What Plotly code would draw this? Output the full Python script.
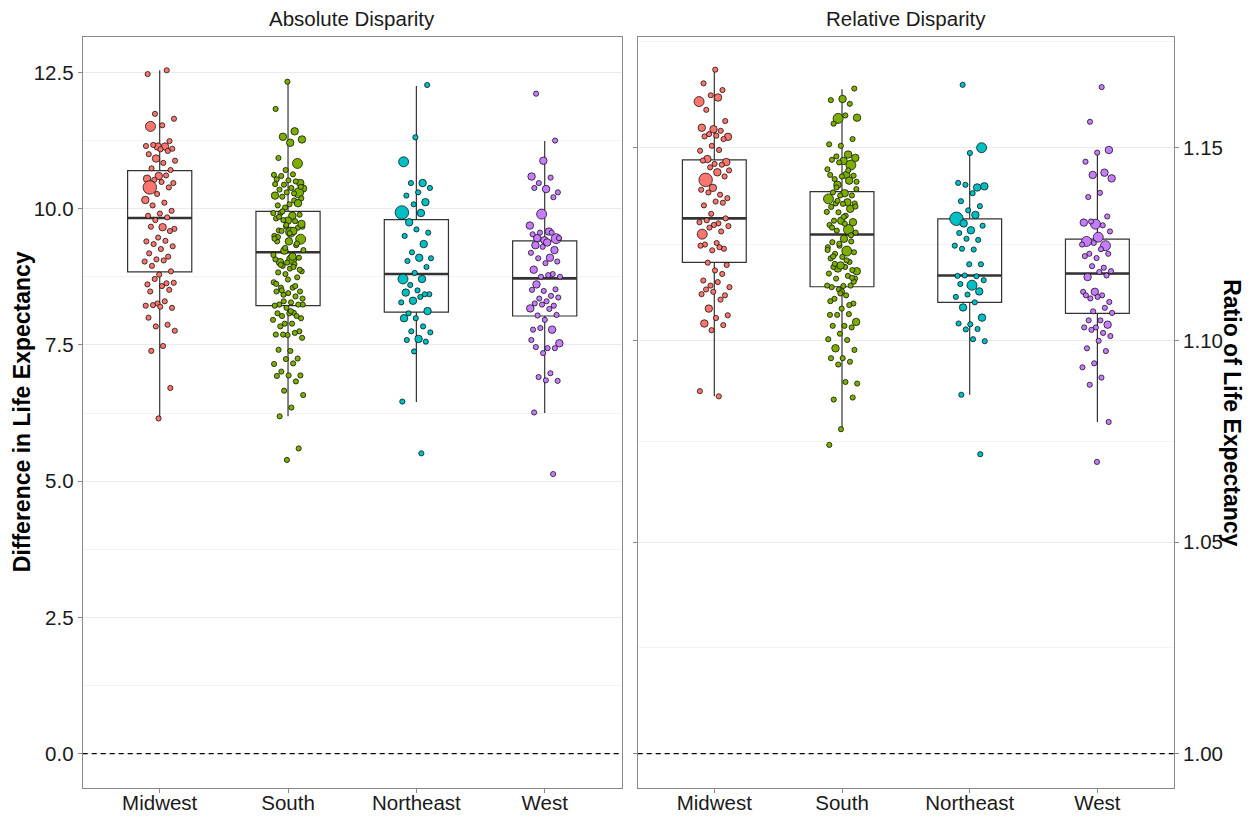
import numpy as np
import plotly.graph_objects as go

# ---------------- data ----------------
regions = ["Midwest", "South", "Northeast", "West"]
region_colors = ["#F8766D", "#7CAE00", "#00BFC4", "#C77CFF"]

# Absolute disparity (difference in life expectancy): (value, population class)
abs_midwest = [(12.47,1),(12.54,1),(11.74,1),(11.65,1),(11.53,1),(11.51,3),(11.24,1),(11.14,2),(11.15,1),(11.14,2),
               (11.17,1),(11.10,1),(11.09,1),(11.00,1),(11.06,1),(10.92,2),(10.88,1),(10.84,1),(10.74,1),(10.71,1),
               (10.60,2),(10.55,2),(10.61,1),(10.53,1),(10.47,1),(10.49,1),(10.39,4),(10.39,1),(10.27,1),(10.16,2),
               (10.11,1),(10.06,1),(9.96,1),(9.91,1),(9.87,1),(9.84,1),(9.79,1),(9.63,1),(9.66,2),(9.67,1),
               (9.59,1),(9.47,1),(9.40,1),(9.41,1),(9.35,1),(9.31,1),(9.26,1),(9.18,1),(9.12,1),(9.07,1),
               (9.03,1),(9.05,1),(8.95,1),(8.85,1),(8.79,1),(8.61,1),(8.63,1),(8.71,1),(8.64,1),(8.58,1),
               (8.48,1),(8.51,1),(8.26,1),(8.22,1),(8.30,1),(8.23,1),(8.18,1),(8.20,1),(8.00,1),(7.87,1),
               (7.84,1),(7.76,1),(7.48,1),(7.39,1),(6.71,1),(6.15,1)]
abs_south = [(12.33,1),(11.83,1),(11.42,2),(11.32,2),(11.27,2),(11.21,2),(10.93,1),(10.83,3),(10.71,1),(10.62,1),
             (10.63,1),(10.60,1),(10.47,2),(10.52,1),(10.54,1),(10.50,1),(10.44,1),(10.37,2),(10.38,1),(10.35,1),
             (10.29,3),(10.30,1),(10.24,2),(10.28,1),(10.22,1),(10.19,1),(10.08,1),(10.06,1),(10.11,1),(10.02,1),
             (9.92,1),(9.87,2),(9.92,1),(9.89,1),(9.78,2),(9.82,1),(9.77,1),(9.79,1),(9.67,1),(9.57,3),
             (9.60,1),(9.65,1),(9.67,1),(9.50,1),(9.59,2),(9.59,1),(9.44,3),(9.40,2),(9.40,1),(9.33,1),
             (9.23,2),(9.24,1),(9.07,3),(9.02,2),(9.10,1),(9.01,1),(9.07,1),(8.98,1),(8.95,1),(8.85,1),
             (8.90,1),(8.83,1),(8.74,1),(8.80,1),(8.65,1),(8.55,1),(8.55,1),(8.48,1),(8.45,1),(8.48,1),
             (8.39,1),(8.30,1),(8.24,1),(8.28,1),(8.24,1),(8.24,1),(8.18,1),(8.22,1),(8.09,1),(8.03,1),
             (7.99,1),(8.08,1),(8.08,1),(8.03,1),(7.89,1),(7.96,1),(7.89,1),(7.84,1),(7.75,1),(7.68,1),
             (7.69,1),(7.72,1),(7.69,1),(7.63,1),(7.39,1),(7.41,1),(7.25,1),(7.24,1),(7.15,1),(7.16,1),
             (7.01,1),(6.94,1),(6.94,1),(6.93,1),(6.83,1),(6.66,1),(6.58,1),(6.35,1),(6.19,1),(5.60,1),
             (5.39,1),(10.45,1),(10.15,1),(9.95,1),(9.72,2),(9.55,1),(9.48,1),(9.36,1),(9.28,1),(9.15,1),
             (9.12,2),(8.97,1),(8.88,1),(8.70,1),(8.62,1),(8.58,1),(8.42,1),(8.35,1),(8.12,1),(9.85,1),
             (10.10,2),(9.70,1),(9.45,1),(8.93,1),(8.50,1),(10.40,1)]
abs_northeast = [(12.27,1),(11.31,1),(10.86,3),(10.47,2),(10.47,1),(10.38,1),(10.30,1),(10.24,1),(10.12,2),(10.08,1),
                 (9.93,4),(9.92,2),(9.75,2),(9.56,1),(9.62,1),(9.50,1),(9.35,2),(9.20,1),(9.09,1),(9.10,2),
                 (9.04,1),(8.93,1),(8.82,1),(8.71,3),(8.71,2),(8.60,1),(8.43,1),(8.50,1),(8.46,2),(8.43,1),
                 (8.31,2),(8.28,1),(8.38,1),(8.08,1),(8.12,2),(7.99,1),(7.99,2),(7.84,1),(7.75,1),(7.73,1),
                 (7.61,2),(7.59,1),(7.56,1),(7.38,1),(6.46,1),(5.51,1)]
abs_west = [(12.11,1),(11.25,1),(10.88,2),(10.59,2),(10.57,1),(10.47,1),(10.30,1),(10.36,2),(10.38,1),(10.21,1),
            (9.90,3),(9.69,2),(9.58,2),(9.46,2),(9.45,3),(9.42,2),(9.53,1),(9.56,1),(9.56,1),(9.46,1),
            (9.38,2),(9.33,2),(9.24,2),(9.30,1),(9.19,1),(9.10,2),(9.09,1),(9.03,1),(9.00,1),(8.88,2),
            (8.80,1),(8.75,1),(8.75,1),(8.78,1),(8.61,2),(8.52,1),(8.49,1),(8.51,1),(8.40,1),(8.35,1),
            (8.37,1),(8.30,1),(8.26,1),(8.22,1),(8.24,1),(8.17,2),(8.16,1),(8.04,1),(8.05,1),(7.96,1),
            (7.78,1),(7.78,2),(7.81,1),(7.53,2),(7.44,1),(7.46,1),(7.44,1),(7.35,1),(7.59,1),(6.98,1),
            (6.91,1),(6.84,1),(6.85,1),(6.26,1),(5.13,1)]

# Relative disparity (ratio of life expectancy): (value, population class)
rel_midwest = [(1.1709,1),(1.1672,1),(1.1654,1),(1.1640,1),(1.1623,3),(1.1634,2),(1.1601,1),(1.1571,1),(1.1549,2),(1.1553,2),
               (1.1545,1),(1.1536,1),(1.1529,2),(1.1532,1),(1.1530,1),(1.1523,1),(1.1505,1),(1.1492,1),(1.1494,1),(1.1470,2),
               (1.1462,2),(1.1457,1),(1.1466,1),(1.1455,1),(1.1448,1),(1.1440,1),(1.1435,2),(1.1415,4),(1.1424,1),(1.1394,2),
               (1.1389,1),(1.1376,1),(1.1382,1),(1.1367,1),(1.1358,1),(1.1348,1),(1.1355,1),(1.1326,1),(1.1304,1),(1.1301,1),
               (1.1309,1),(1.1314,1),(1.1297,1),(1.1273,3),(1.1280,1),(1.1290,1),(1.1294,1),(1.1250,1),(1.1246,1),(1.1235,1),
               (1.1231,1),(1.1243,1),(1.1239,1),(1.1199,1),(1.1193,1),(1.1179,1),(1.1153,1),(1.1170,1),(1.1140,1),(1.1136,1),
               (1.1149,1),(1.1130,1),(1.1115,1),(1.1124,1),(1.1118,1),(1.1104,1),(1.1081,2),(1.1064,1),(1.1057,1),(1.1043,2),
               (1.1039,1),(1.1026,1),(1.0872,1),(1.0859,1)]
rel_south = [(1.1658,1),(1.1630,2),(1.1627,1),(1.1617,1),(1.1578,3),(1.1580,2),(1.1586,1),(1.1564,1),(1.1523,1),(1.1505,1),
             (1.1509,1),(1.1482,2),(1.1477,1),(1.1473,2),(1.1465,2),(1.1468,1),(1.1454,3),(1.1461,1),(1.1443,1),(1.1428,2),
             (1.1417,1),(1.1426,1),(1.1424,1),(1.1428,1),(1.1413,2),(1.1402,2),(1.1391,1),(1.1380,2),(1.1382,1),(1.1374,1),
             (1.1374,1),(1.1365,3),(1.1356,2),(1.1353,1),(1.1353,1),(1.1352,1),(1.1344,1),(1.1339,2),(1.1330,1),(1.1331,1),
             (1.1321,1),(1.1308,1),(1.1304,2),(1.1308,2),(1.1297,1),(1.1285,3),(1.1282,1),(1.1277,1),(1.1261,2),(1.1252,1),
             (1.1254,1),(1.1243,1),(1.1239,1),(1.1229,3),(1.1222,1),(1.1226,1),(1.1214,1),(1.1210,1),(1.1201,1),(1.1184,2),
             (1.1177,2),(1.1188,1),(1.1188,1),(1.1180,1),(1.1192,2),(1.1171,1),(1.1165,1),(1.1158,1),(1.1158,1),(1.1139,1),
             (1.1136,1),(1.1140,1),(1.1130,1),(1.1140,1),(1.1115,1),(1.1106,1),(1.1094,1),(1.1081,1),(1.1065,1),(1.1067,1),
             (1.1065,1),(1.1047,2),(1.1037,1),(1.1037,1),(1.1033,1),(1.1017,1),(1.1003,1),(1.1001,1),(1.0980,2),(1.0976,1),
             (1.0955,1),(1.0955,1),(1.0946,1),(1.0939,1),(1.0891,1),(1.0895,1),(1.0851,1),(1.0856,1),(1.0777,1),(1.0738,1),
             (1.1440,1),(1.1395,1),(1.1345,1),(1.1318,1),(1.1290,1),(1.1270,1),(1.1248,1),(1.1232,1),(1.1205,1),(1.1196,1),
             (1.1150,1),(1.1125,1),(1.1100,1),(1.1090,1),(1.1360,1),(1.1410,1),(1.1300,1),(1.1215,1),(1.1160,1),(1.1120,1)]
rel_northeast = [(1.1668,1),(1.1500,3),(1.1486,1),(1.1407,1),(1.1395,2),(1.1402,1),(1.1398,2),(1.1380,1),(1.1359,1),(1.1346,1),
                 (1.1335,1),(1.1313,4),(1.1323,2),(1.1301,2),(1.1295,1),(1.1283,2),(1.1276,1),(1.1258,1),(1.1261,1),(1.1243,1),
                 (1.1233,1),(1.1235,1),(1.1195,1),(1.1195,1),(1.1165,1),(1.1164,1),(1.1166,1),(1.1154,1),(1.1141,3),(1.1144,1),
                 (1.1125,2),(1.1117,1),(1.1111,1),(1.1097,1),(1.1084,2),(1.1058,2),(1.1041,1),(1.1043,1),(1.1029,1),(1.1028,1),
                 (1.0998,1),(1.1003,1),(1.0863,1),(1.0715,1)]
rel_west = [(1.1662,1),(1.1569,1),(1.1494,2),(1.1487,1),(1.1463,1),(1.1434,2),(1.1428,2),(1.1419,2),(1.1381,1),(1.1370,1),
            (1.1319,1),(1.1299,3),(1.1303,2),(1.1296,1),(1.1306,1),(1.1280,1),(1.1265,3),(1.1254,3),(1.1243,3),(1.1250,1),
            (1.1246,1),(1.1234,1),(1.1222,1),(1.1222,1),(1.1211,1),(1.1216,1),(1.1186,1),(1.1190,1),(1.1177,1),(1.1175,1),
            (1.1162,2),(1.1166,1),(1.1124,2),(1.1124,1),(1.1115,1),(1.1107,1),(1.1098,1),(1.1111,1),(1.1115,1),(1.1083,1),
            (1.1074,1),(1.1070,1),(1.1051,1),(1.1051,1),(1.1040,2),(1.1033,1),(1.1033,1),(1.1019,1),(1.1027,1),(1.1011,1),
            (1.0999,1),(1.0980,1),(1.0973,1),(1.0942,1),(1.0932,1),(1.0906,1),(1.0888,1),(1.0795,1),(1.0696,1)]

# Box statistics (lower whisker, Q1, median, Q3, upper whisker)
abs_q1 = [8.84, 8.22, 8.10, 8.03]
abs_median = [9.83, 9.20, 8.80, 8.72]
abs_q3 = [10.70, 9.95, 9.80, 9.41]
abs_lower = [6.14, 6.19, 6.45, 6.25]
abs_upper = [12.54, 12.32, 12.25, 11.24]

rel_q1 = [1.1200, 1.1137, 1.1097, 1.1069]
rel_median = [1.1314, 1.1272, 1.1166, 1.1171]
rel_q3 = [1.1468, 1.1384, 1.1313, 1.1260]
rel_lower = [1.0859, 1.0777, 1.0863, 1.0795]
rel_upper = [1.1709, 1.1656, 1.1488, 1.1492]

abs_ticks = [0.0, 2.5, 5.0, 7.5, 10.0, 12.5]
rel_ticks = [1.00, 1.05, 1.10, 1.15]

# ---------------- styling ----------------
FONT = "Liberation Sans, Arial, Helvetica, sans-serif"
OFF = 8                      # page body margin of the html page
W, H = 1258 - OFF, 817 - OFF
size_px = {1: 5.2, 2: 7.5, 3: 10.0, 4: 13.5}
JIT = 0.12
BORDER = "#8a8a8a"
GRID = "#ebebeb"
GRID_MINOR = "#f3f3f3"


def px(x):
    return (x - OFF) / W


def py(y):
    return 1 - (y - OFF) / H


fig = go.Figure()


def add_panel(xa, ya, groups, q1, med, q3, lo, hi, phase, ref_y):
    fig.add_trace(go.Box(
        x=[1, 2, 3, 4], q1=q1, median=med, q3=q3, lowerfence=lo, upperfence=hi,
        width=0.5, whiskerwidth=0, boxpoints=False,
        fillcolor="rgba(255,255,255,0)", line=dict(color="#333333", width=1.2),
        xaxis=xa, yaxis=ya, showlegend=False, hoverinfo="skip"))
    # thicker median bar
    fig.add_trace(go.Box(
        x=[1, 2, 3, 4], q1=med, median=med, q3=med, lowerfence=med, upperfence=med,
        width=0.5, whiskerwidth=0, boxpoints=False,
        fillcolor="rgba(255,255,255,0)", line=dict(color="#333333", width=2.6),
        xaxis=xa, yaxis=ya, showlegend=False, hoverinfo="skip"))
    # reference line
    fig.add_trace(go.Scatter(
        x=[0.4, 4.6], y=[ref_y, ref_y], mode="lines",
        line=dict(color="black", width=1.2, dash="5px,4px"),
        xaxis=xa, yaxis=ya, showlegend=False, hoverinfo="skip"))
    for gi, pts in enumerate(groups):
        vals = np.array([p[0] for p in pts])
        w = [p[1] for p in pts]
        n = len(vals)
        jit = ((np.arange(n) * 0.6180339887 + phase + gi * 0.37) % 1.0 - 0.5) * 2 * JIT
        fig.add_trace(go.Scatter(
            x=(gi + 1) + jit, y=vals, mode="markers",
            marker=dict(size=[size_px[k] for k in w], color=region_colors[gi],
                        line=dict(color="black", width=0.7), opacity=1),
            xaxis=xa, yaxis=ya, showlegend=False, hoverinfo="skip"))


add_panel("x", "y", [abs_midwest, abs_south, abs_northeast, abs_west],
          abs_q1, abs_median, abs_q3, abs_lower, abs_upper, 0.11, 0.0)
add_panel("x2", "y2", [rel_midwest, rel_south, rel_northeast, rel_west],
          rel_q1, rel_median, rel_q3, rel_lower, rel_upper, 0.53, 1.0)

# panel geometry (reference pixels -> paper)
xl = [px(82.7), px(621.7)]
xr = [px(637.7), px(1174.0)]
yd = [py(787.7), py(36.7)]

tickfont = dict(family=FONT, size=20.5, color="#1a1a1a")
xcommon = dict(range=[0.4, 4.6], tickmode="array", tickvals=[1, 2, 3, 4], ticktext=regions,
               ticks="outside", ticklen=4, tickcolor=BORDER, tickwidth=1,
               showline=True, linecolor=BORDER, linewidth=1, mirror=True,
               showgrid=False, zeroline=False, tickfont=tickfont, automargin=False,
               ticklabelstandoff=-7)

# log-scale minor break positions (midpoints in log space)
lt = np.log10(rel_ticks)
step = lt[1] - lt[0]
ext = np.append(lt, lt[-1] + step)
rel_minor = list(10 ** ((ext[:-1] + ext[1:]) / 2))
abs_minor = [(a + b) / 2 for a, b in zip(abs_ticks[:-1], abs_ticks[1:])] + [abs_ticks[-1] + 1.25]

fig.update_layout(
    width=W, height=H, margin=dict(l=0, r=0, t=0, b=0),
    paper_bgcolor="white", plot_bgcolor="white", boxmode="overlay",
    font=dict(family=FONT, color="#1a1a1a"),
    xaxis=dict(domain=xl, anchor="y", **xcommon),
    xaxis2=dict(domain=xr, anchor="y2", **xcommon),
    yaxis=dict(domain=yd, anchor="x", range=[-0.626, 13.156], tickmode="array",
               tickvals=abs_ticks, ticktext=[f"{v:.1f}" for v in abs_ticks],
               ticks="outside", ticklen=4, tickcolor=BORDER, tickwidth=1,
               showline=True, linecolor=BORDER, linewidth=1, mirror=True,
               showgrid=True, gridcolor=GRID, gridwidth=1, zeroline=False,
               minor=dict(tickmode="array", tickvals=abs_minor, showgrid=True,
                          gridcolor=GRID_MINOR, gridwidth=0.7, ticks=""),
               tickfont=tickfont, automargin=False),
    yaxis2=dict(domain=yd, anchor="x2", side="right", type="log",
                range=[-0.00342, 0.07182], tickmode="array",
                tickvals=rel_ticks, ticktext=[f"{v:.2f}" for v in rel_ticks],
                ticks="outside", ticklen=4, tickcolor=BORDER, tickwidth=1,
                showline=True, linecolor=BORDER, linewidth=1, mirror="ticks",
                showgrid=True, gridcolor=GRID, gridwidth=1, zeroline=False,
                minor=dict(tickmode="array", tickvals=rel_minor, showgrid=True,
                           gridcolor=GRID_MINOR, gridwidth=0.7, ticks=""),
                tickfont=tickfont, automargin=False),
    annotations=[
        dict(text="Absolute Disparity", x=(xl[0] + xl[1]) / 2, y=py(18.5),
             xref="paper", yref="paper", showarrow=False, xanchor="center", yanchor="middle",
             font=dict(family=FONT, size=20.5, color="#1a1a1a")),
        dict(text="Relative Disparity", x=(xr[0] + xr[1]) / 2, y=py(18.5),
             xref="paper", yref="paper", showarrow=False, xanchor="center", yanchor="middle",
             font=dict(family=FONT, size=20.5, color="#1a1a1a")),
        dict(text="<b>Difference in Life Expectancy</b>", x=px(22), y=(yd[0] + yd[1]) / 2,
             xref="paper", yref="paper", showarrow=False, textangle=-90,
             xanchor="center", yanchor="middle",
             font=dict(family=FONT, size=23, color="black")),
        dict(text="<b>Ratio of Life Expectancy</b>", x=px(1232), y=(yd[0] + yd[1]) / 2,
             xref="paper", yref="paper", showarrow=False, textangle=90,
             xanchor="center", yanchor="middle",
             font=dict(family=FONT, size=23, color="black")),
    ],
)

fig.write_html("out.html")
